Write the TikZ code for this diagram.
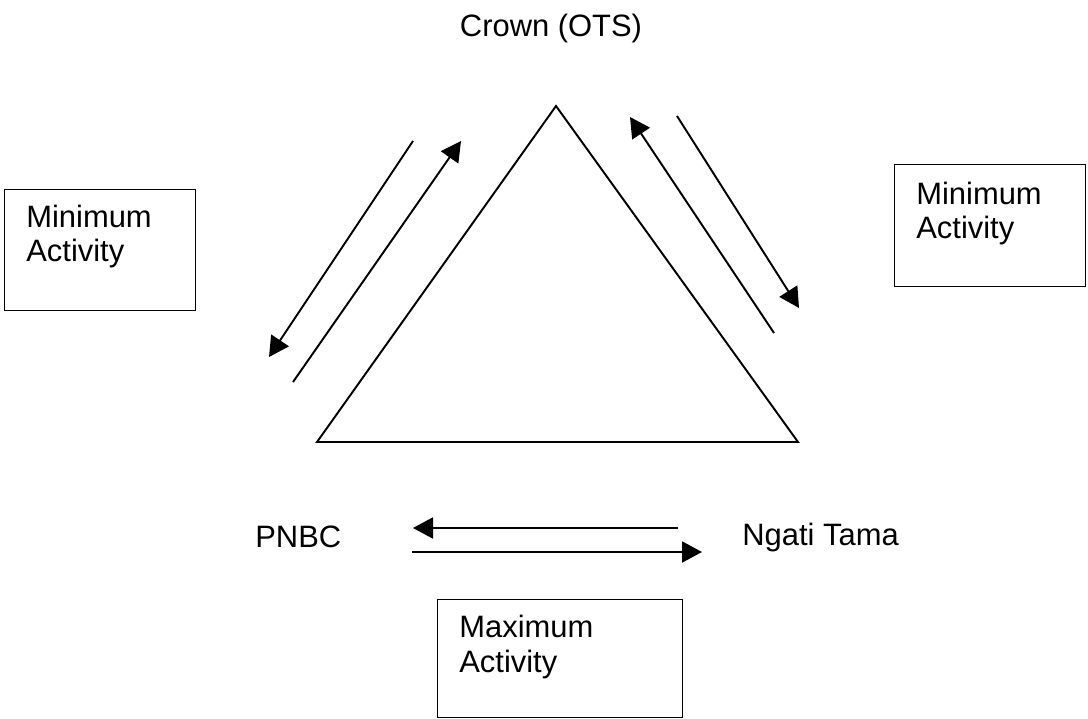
\documentclass[tikz,border=0pt]{standalone}
\usepackage{fontspec}
\setmainfont{Liberation Sans}
\usepackage{tikz}
\usetikzlibrary{arrows.meta,positioning}

\tikzset{
	lbl/.style={inner sep=0pt, font=\fontsize{17.6}{19.4}\selectfont},
	actbox/.style={draw, line width=0.8pt, inner sep=0pt, anchor=north west},
	flow/.style={line width=1.1pt, -{Triangle[length=0.4cm,width=0.42cm]}}
}

\begin{document}
\begin{tikzpicture}[x=0.02cm,y=-0.02cm]
	\useasboundingbox (0,0) rectangle (1088,719);

	% The triangle
	\coordinate (apex) at (556,106);
	\coordinate (bl) at (317,442);
	\coordinate (br) at (798,442);
	\draw[line width=1.1pt] (apex) -- (br) -- (bl) -- cycle;

	% Parties
	\node[lbl, anchor=base] (crown) at (551,37) {Crown (OTS)};
	\node[lbl, anchor=base west] (pnbc) at (255,547) {PNBC};
	\node[lbl, anchor=base west] (ngati) at (742,545) {Ngati Tama};

	% Arrows along the left side
	\coordinate (l1s) at (413,141);
	\coordinate (l1e) at (269,357);
	\coordinate (l2s) at (293,382);
	\coordinate (l2e) at (461,141);
	\draw[flow] (l1s) -- (l1e);
	\draw[flow] (l2s) -- (l2e);

	% Arrows along the right side
	\coordinate (r1s) at (774,333);
	\coordinate (r1e) at (630,117);
	\coordinate (r2s) at (677,116);
	\coordinate (r2e) at (799,308);
	\draw[flow] (r1s) -- (r1e);
	\draw[flow] (r2s) -- (r2e);

	% Arrows between PNBC and Ngati Tama
	\coordinate (h1s) at (678,528);
	\coordinate (h1e) at (413,528);
	\coordinate (h2s) at (412,552);
	\coordinate (h2e) at (702,552);
	\draw[flow] (h1s) -- (h1e);
	\draw[flow] (h2s) -- (h2e);

	% Activity boxes (text placed by the baseline of its last line)
	\node[actbox, minimum width=3.82cm, minimum height=2.42cm] (minl) at (4,189) {};
	\node[lbl, anchor=base west, align=left] (minltxt) at (26,262) {Minimum\\Activity};
	\node[actbox, minimum width=3.82cm, minimum height=2.44cm] (minr) at (894,164) {};
	\node[lbl, anchor=base west, align=left] (minrtxt) at (916,239) {Minimum\\Activity};
	\node[actbox, minimum width=4.9cm, minimum height=2.36cm] (maxb) at (437,599) {};
	\node[lbl, anchor=base west, align=left] (maxtxt) at (459,672) {Maximum\\Activity};
\end{tikzpicture}
\end{document}
